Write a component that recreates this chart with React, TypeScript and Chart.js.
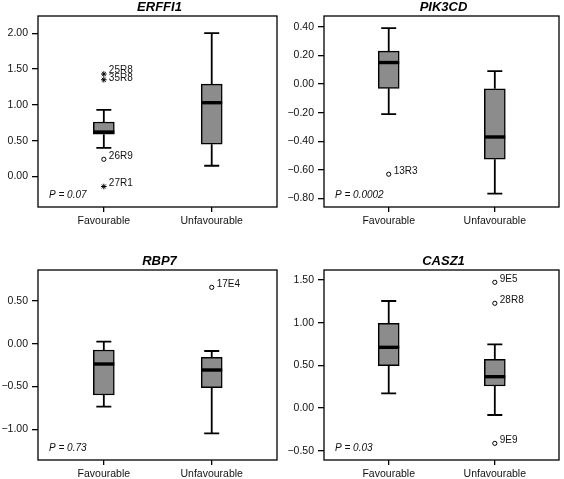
import React, { useEffect, useRef } from 'react';
import { Chart, registerables } from 'chart.js';

Chart.register(...registerables);

const categories = ['Favourable', 'Unfavourable'];

// Box statistics: [lower whisker, Q1, median, Q3, upper whisker]
const erffi1Favourable = [0.40, 0.59, 0.62, 0.76, 0.93];
const erffi1Unfavourable = [0.15, 0.45, 1.03, 1.29, 2.0];
const erffi1OutlierValues = [1.43, 1.35, 0.24, -0.14];
const erffi1OutlierLabels = ['25R8', '35R8', '26R9', '27R1'];
const erffi1OutlierGroups = [0, 0, 0, 0];
const erffi1OutlierExtreme = [true, true, false, true];
const erffi1Ticks = [0, 0.5, 1.0, 1.5, 2.0];

const pik3cdFavourable = [-0.21, -0.03, 0.15, 0.23, 0.39];
const pik3cdUnfavourable = [-0.765, -0.525, -0.37, -0.033, 0.09];
const pik3cdOutlierValues = [-0.63];
const pik3cdOutlierLabels = ['13R3'];
const pik3cdOutlierGroups = [0];
const pik3cdOutlierExtreme = [false];
const pik3cdTicks = [-0.8, -0.6, -0.4, -0.2, 0.0, 0.2, 0.4];

const rbp7Favourable = [-0.735, -0.598, -0.236, -0.072, 0.025];
const rbp7Unfavourable = [-1.046, -0.513, -0.306, -0.158, -0.084];
const rbp7OutlierValues = [0.66];
const rbp7OutlierLabels = ['17E4'];
const rbp7OutlierGroups = [1];
const rbp7OutlierExtreme = [false];
const rbp7Ticks = [-1.0, -0.5, 0.0, 0.5];

const casz1Favourable = [0.172, 0.496, 0.711, 0.992, 1.254];
const casz1Unfavourable = [-0.082, 0.258, 0.367, 0.571, 0.746];
const casz1OutlierValues = [1.473, 1.227, -0.414];
const casz1OutlierLabels = ['9E5', '28R8', '9E9'];
const casz1OutlierGroups = [1, 1, 1];
const casz1OutlierExtreme = [false, false, false];
const casz1Ticks = [-0.5, 0.0, 0.5, 1.0, 1.5];

const geneTitles = ['ERFFI1', 'PIK3CD', 'RBP7', 'CASZ1'];
const pValues = ['0.07', '0.0002', '0.73', '0.03'];
const yMins = [-0.426, -0.859, -1.358, -0.609];
const yMaxs = [2.24, 0.475, 0.863, 1.617];

const FONT = '"Liberation Sans", Arial, Helvetica, sans-serif';

const panels = [
  { title: geneTitles[0], stats: [erffi1Favourable, erffi1Unfavourable], outV: erffi1OutlierValues, outL: erffi1OutlierLabels, outG: erffi1OutlierGroups, outE: erffi1OutlierExtreme, ticks: erffi1Ticks, yMin: yMins[0], yMax: yMaxs[0], p: pValues[0] },
  { title: geneTitles[1], stats: [pik3cdFavourable, pik3cdUnfavourable], outV: pik3cdOutlierValues, outL: pik3cdOutlierLabels, outG: pik3cdOutlierGroups, outE: pik3cdOutlierExtreme, ticks: pik3cdTicks, yMin: yMins[1], yMax: yMaxs[1], p: pValues[1] },
  { title: geneTitles[2], stats: [rbp7Favourable, rbp7Unfavourable], outV: rbp7OutlierValues, outL: rbp7OutlierLabels, outG: rbp7OutlierGroups, outE: rbp7OutlierExtreme, ticks: rbp7Ticks, yMin: yMins[2], yMax: yMaxs[2], p: pValues[2] },
  { title: geneTitles[3], stats: [casz1Favourable, casz1Unfavourable], outV: casz1OutlierValues, outL: casz1OutlierLabels, outG: casz1OutlierGroups, outE: casz1OutlierExtreme, ticks: casz1Ticks, yMin: yMins[3], yMax: yMaxs[3], p: pValues[3] },
];

// Canvas placement and plot-area geometry (layout only)
const layouts = [
  { left: 0, top: 0, w: 282, h: 240, axisW: 38, padTop: 16, padRight: 5, axisH: 33 },
  { left: 282, top: 0, w: 282, h: 240, axisW: 42, padTop: 16, padRight: 5, axisH: 33 },
  { left: 0, top: 240, w: 282, h: 239, axisW: 38, padTop: 30, padRight: 5, axisH: 19 },
  { left: 282, top: 240, w: 282, h: 239, axisW: 42, padTop: 30, padRight: 5, axisH: 19 },
];

const fmt = (v: number) => {
  const s = Math.abs(v).toFixed(2);
  return v < -1e-9 ? '\u2212' + s : s;
};

const boxPlugin = {
  id: 'boxExtras',
  beforeDatasetsDraw(chart: any, _args: any, opts: any) {
    const panel = opts.panel;
    if (!panel) return;
    const { ctx, scales } = chart;
    const x = scales.x, y = scales.y;
    ctx.save();
    ctx.strokeStyle = '#000';
    ctx.lineWidth = 1.8;
    panel.stats.forEach((s: number[], i: number) => {
      const cx = x.getPixelForValue(i + 1);
      const cap = 7.5;
      ctx.beginPath();
      ctx.moveTo(cx, y.getPixelForValue(s[4]));
      ctx.lineTo(cx, y.getPixelForValue(s[3]));
      ctx.moveTo(cx, y.getPixelForValue(s[1]));
      ctx.lineTo(cx, y.getPixelForValue(s[0]));
      ctx.moveTo(cx - cap, y.getPixelForValue(s[4]));
      ctx.lineTo(cx + cap, y.getPixelForValue(s[4]));
      ctx.moveTo(cx - cap, y.getPixelForValue(s[0]));
      ctx.lineTo(cx + cap, y.getPixelForValue(s[0]));
      ctx.stroke();
    });
    ctx.restore();
  },
  afterDatasetsDraw(chart: any, _args: any, opts: any) {
    const panel = opts.panel;
    if (!panel) return;
    const { ctx, scales, chartArea: a } = chart;
    const x = scales.x, y = scales.y;
    ctx.save();
    // medians
    ctx.strokeStyle = '#000';
    ctx.lineWidth = 3.4;
    panel.stats.forEach((s: number[], i: number) => {
      const cx = x.getPixelForValue(i + 1);
      const ym = y.getPixelForValue(s[2]);
      ctx.beginPath();
      ctx.moveTo(cx - 10.5, ym);
      ctx.lineTo(cx + 10.5, ym);
      ctx.stroke();
    });
    // outlier labels (nudged apart vertically when they would collide)
    const items = panel.outV.map((v: number, i: number) => ({
      g: panel.outG[i],
      px: x.getPixelForValue(panel.outG[i] + 1),
      py: y.getPixelForValue(v) - 3,
      text: panel.outL[i],
    }));
    items.sort((p: any, q: any) => p.py - q.py);
    for (let k = 1; k < items.length; k++) {
      const prev = items[k - 1], cur = items[k];
      if (prev.g === cur.g && cur.py - prev.py < 8) {
        const d = (8 - (cur.py - prev.py)) / 2;
        prev.py -= d;
        cur.py += d;
      }
    }
    ctx.fillStyle = '#111';
    ctx.font = `10px ${FONT}`;
    ctx.textAlign = 'left';
    ctx.textBaseline = 'middle';
    items.forEach((it: any) => ctx.fillText(it.text, it.px + 5, it.py));
    // frame
    ctx.lineWidth = 1.3;
    ctx.strokeRect(a.left, a.top, a.right - a.left, a.bottom - a.top);
    // title
    ctx.font = `italic bold 13px ${FONT}`;
    ctx.textAlign = 'center';
    ctx.textBaseline = 'middle';
    ctx.fillStyle = '#000';
    ctx.fillText(panel.title, (a.left + a.right) / 2 + 2, a.top - 9);
    // p value
    ctx.font = `italic 10px ${FONT}`;
    ctx.textAlign = 'left';
    ctx.fillStyle = '#111';
    ctx.fillText('P = ' + panel.p, a.left + 11, a.bottom - 12);
    ctx.restore();
  },
};

function BoxPanel({ idx }: { idx: number }) {
  const ref = useRef<HTMLCanvasElement>(null);
  const panel = panels[idx];
  const lay = layouts[idx];
  useEffect(() => {
    if (!ref.current) return;
    const circles: any[] = [];
    const stars: any[] = [];
    panel.outV.forEach((v, i) => {
      const pt = { x: panel.outG[i] + 1, y: v };
      if (panel.outE[i]) stars.push(pt); else circles.push(pt);
    });
    const chart = new Chart(ref.current, {
      type: 'bar',
      data: {
        datasets: [
          {
            type: 'bar',
            data: panel.stats.map((s, i) => ({ x: i + 1, y: [s[1], s[3]] })) as any,
            backgroundColor: '#8c8c8c',
            borderColor: '#000',
            borderWidth: 1.5,
            borderSkipped: false,
            barThickness: 21,
          } as any,
          {
            type: 'scatter',
            data: circles,
            pointStyle: 'circle',
            pointRadius: 2.1,
            pointBorderWidth: 1,
            pointBorderColor: '#000',
            pointBackgroundColor: '#fff',
          } as any,
          {
            type: 'scatter',
            data: stars,
            pointStyle: 'star',
            pointRadius: 2.8,
            pointBorderWidth: 1,
            pointBorderColor: '#000',
            pointBackgroundColor: '#000',
          } as any,
        ],
      },
      options: {
        responsive: false,
        animation: false,
        events: [],
        layout: { padding: { top: lay.padTop, right: lay.padRight, left: 0, bottom: 0 } },
        plugins: {
          legend: { display: false },
          tooltip: { enabled: false },
          title: { display: false },
          boxExtras: { panel },
        } as any,
        scales: {
          x: {
            type: 'linear',
            min: 0.39,
            max: 2.605,
            offset: false,
            afterBuildTicks: (s: any) => { s.ticks = categories.map((_, i) => ({ value: i + 1 })); },
            afterFit: (s: any) => { s.height = lay.axisH; },
            ticks: {
              callback: (v: any) => categories[Math.round(Number(v)) - 1] ?? '',
              font: { family: FONT, size: 10.5 },
              color: '#111',
              padding: 3,
              maxRotation: 0,
              autoSkip: false,
            },
            grid: { display: true, offset: false, drawOnChartArea: false, drawTicks: true, tickLength: 5, color: '#000', lineWidth: 1.3 },
            border: { display: false },
          },
          y: {
            type: 'linear',
            min: panel.yMin,
            max: panel.yMax,
            afterBuildTicks: (s: any) => { s.ticks = panel.ticks.map((v) => ({ value: v })); },
            afterFit: (s: any) => { s.width = lay.axisW; },
            ticks: {
              callback: (v: any) => fmt(Number(v)),
              font: { family: FONT, size: 10.5 },
              color: '#111',
              padding: 4,
              autoSkip: false,
            },
            grid: { display: true, offset: false, drawOnChartArea: false, drawTicks: true, tickLength: 6, color: '#000', lineWidth: 1.3 },
            border: { display: false },
          },
        } as any,
      },
      plugins: [boxPlugin as any],
    });
    return () => chart.destroy();
  }, []);
  return (
    <canvas
      ref={ref}
      width={lay.w}
      height={lay.h}
      style={{ position: 'absolute', left: lay.left, top: lay.top, width: lay.w, height: lay.h }}
    />
  );
}

export default function App() {
  return (
    <div style={{ position: 'fixed', left: 0, top: 0, width: 564, height: 479, background: '#fff', overflow: 'hidden' }}>
      {panels.map((_, i) => (
        <BoxPanel key={i} idx={i} />
      ))}
    </div>
  );
}
